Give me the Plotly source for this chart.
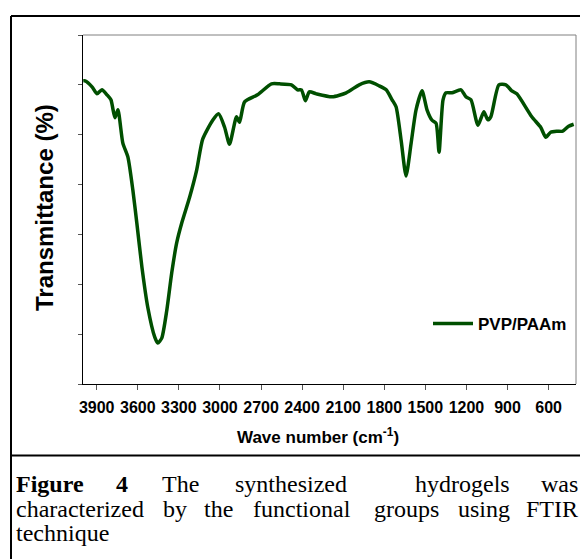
import plotly.graph_objects as go

# FTIR spectrum of PVP/PAAm hydrogel
wavenumber = [3998, 3985, 3934, 3898, 3862, 3825, 3796, 3767, 3745, 3709,
              3672, 3636, 3607, 3570, 3527, 3476, 3454, 3425, 3388, 3352,
              3316, 3279, 3221, 3170, 3126, 3053, 3010, 2966, 2930, 2879,
              2857, 2820, 2726, 2624, 2565, 2478, 2434, 2405, 2376, 2347,
              2296, 2180, 2078, 1983, 1910, 1837, 1786, 1743, 1714, 1677,
              1641, 1604, 1568, 1524, 1488, 1451, 1422, 1400, 1371, 1349,
              1306, 1240, 1204, 1167, 1116, 1073, 1044, 1022, 963, 912,
              869, 832, 723, 658, 621, 585, 541, 497, 454, 417]
transmittance = [60.8, 60.8, 59.6, 58.2, 59.0, 58.0, 57.0, 53.4, 55.0, 48.3,
                 45.5, 38.9, 32.3, 23.5, 15.4, 9.4, 8.2, 9.2, 14.8, 22.3,
                 28.3, 32.3, 37.5, 42.9, 49.1, 52.9, 54.2, 51.5, 48.1, 53.6,
                 52.5, 56.6, 58.0, 60.2, 60.2, 60.0, 59.0, 59.0, 56.8, 58.6,
                 58.2, 57.6, 58.4, 60.0, 60.6, 59.8, 59.0, 57.0, 55.6, 48.9,
                 41.7, 48.3, 55.0, 58.8, 55.0, 52.9, 52.3, 46.5, 57.0, 58.4,
                 58.4, 59.0, 57.6, 57.0, 51.9, 54.6, 53.0, 53.6, 60.0, 60.0,
                 58.8, 58.2, 53.6, 51.5, 49.5, 50.5, 50.7, 50.7, 51.7, 52.1]
x_ticks = [3900, 3600, 3300, 3000, 2700, 2400, 2100, 1800, 1500, 1200, 900, 600]

# page body has an 8px margin, so the figure is drawn 8px smaller and positions
# below are given in page pixels and shifted back
OFF = 8
W, H = 588 - OFF, 559 - OFF
L, R, T, B = 83 - OFF, 576 - OFF, 35 - OFF, 384 - OFF


def px(x):
    return (x - OFF - L) / (R - L)


def py(y):
    return (B - (y - OFF)) / (B - T)


fig = go.Figure()
fig.add_trace(go.Scatter(x=wavenumber, y=transmittance, mode='lines',
                         name='PVP/PAAm',
                         line=dict(color='#004f00', width=3.5, shape='spline', smoothing=0.6)))

fig.update_xaxes(range=[4000, 400], tickvals=x_ticks, ticks='outside', ticklen=5,
                 tickcolor='#555', showline=True, linecolor='black', linewidth=1,
                 showgrid=False, zeroline=False, ticklabelstandoff=4,
                 tickfont=dict(family='Liberation Sans, Arial', size=16, color='black', weight='bold'))
fig.update_yaxes(range=[0, 70], dtick=10, ticks='outside', ticklen=4, tickcolor='#555',
                 showticklabels=False, showline=True, linecolor='black', linewidth=1,
                 showgrid=False, zeroline=False)

# frame: grey top/right spines, black outer box and caption divider
line_shapes = [
    dict(x0=0, x1=1, y0=1, y1=1, color='#808080', width=1),
    dict(x0=1, x1=1, y0=0, y1=1, color='#808080', width=1),
    dict(x0=px(11), x1=px(11), y0=py(16), y1=py(600), color='black', width=2),
    dict(x0=px(11), x1=px(600), y0=py(16), y1=py(16), color='black', width=2),
    dict(x0=px(11), x1=px(600), y0=py(455.5), y1=py(455.5), color='black', width=2),
]
for s in line_shapes:
    fig.add_shape(type='line', xref='paper', yref='paper', x0=s['x0'], x1=s['x1'],
                  y0=s['y0'], y1=s['y1'], line=dict(color=s['color'], width=s['width']))

sans = 'Liberation Sans, Arial'
serif = 'Liberation Serif, Times New Roman'
fig.add_annotation(text='Transmittance (%)', textangle=-90, xref='paper', yref='paper',
                   x=px(44), y=py(208), xanchor='center', yanchor='middle', showarrow=False,
                   font=dict(family=sans, size=24, color='black', weight='bold'))
fig.add_annotation(text='Wave number (cm<sup>-1</sup>)', xref='paper', yref='paper',
                   x=px(318), y=py(436), xanchor='center', yanchor='middle', showarrow=False,
                   font=dict(family=sans, size=17, color='black', weight='bold'))

# justified caption, word by word (left edge, or right edge for the last word)
caption = [
    [('<b>Figure</b>', 14), ('<b>4</b>', 114), ('The', 160), ('synthesized', 233),
     ('hydrogels', 413), ('was', -580)],
    [('characterized', 14), ('by', 161), ('the', 202), ('functional', 251),
     ('groups', 372), ('using', 456), ('FTIR', -580)],
    [('technique', 14)],
]
line_y = [484, 509, 533]
for words, yy in zip(caption, line_y):
    for w, xx in words:
        fig.add_annotation(text=w, xref='paper', yref='paper', x=px(abs(xx)), y=py(yy),
                           xanchor='right' if xx < 0 else 'left', yanchor='middle',
                           showarrow=False, font=dict(family=serif, size=24, color='black'))

fig.update_layout(width=W, height=H, margin=dict(l=L, r=W - R, t=T, b=H - B),
                  plot_bgcolor='white', paper_bgcolor='white', showlegend=True,
                  legend=dict(x=px(428), y=py(324), xanchor='left', yanchor='middle',
                              itemwidth=40, bgcolor='rgba(0,0,0,0)',
                              font=dict(family=sans, size=17, color='black', weight='bold')))

fig.write_html("out.html")
